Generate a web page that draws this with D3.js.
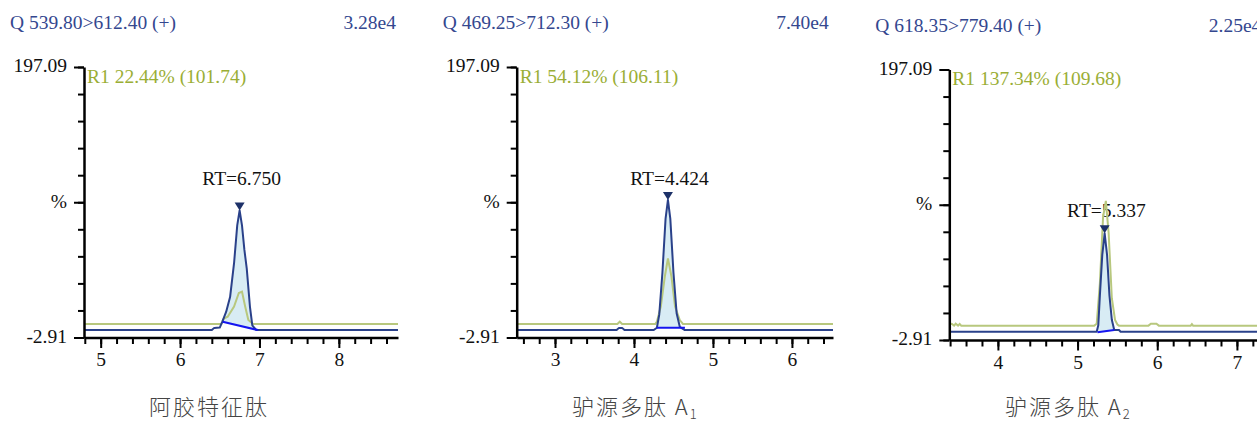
<!DOCTYPE html>
<html>
<head>
<meta charset="utf-8">
<script src="https://cdn.jsdelivr.net/npm/d3@7"></script>
<style>
  body { margin: 0; background: #fff; }
  svg { display: block; }
  .serif { font-family: "Liberation Serif", "Times New Roman", serif; font-size: 19.5px; }
  .cjk { font-family: "Noto Sans CJK SC", "Noto Sans", sans-serif; font-size: 22px; font-weight: 300; }
</style>
</head>
<body>
<svg id="chart"></svg>
<script>
// values
const titles = ['Q 539.80>612.40 (+)', 'Q 469.25>712.30 (+)', 'Q 618.35>779.40 (+)']
const intensities = ['3.28e4', '7.40e4', '2.25e4']
const ratios = ['R1 22.44% (101.74)', 'R1 54.12% (106.11)', 'R1 137.34% (109.68)']
const retentionTimes = [6.750, 4.424, 5.337]
const compoundNames = ['阿胶特征肽', '驴源多肽 A', '驴源多肽 A']
const compoundSubs = ['', '1', '2']
const timeRanges = [[4.79, 8.745], [2.515, 6.52], [3.39, 7.36]]
const yRange = [-2.91, 197.09]
const yTickLabels = ['-2.91', '%', '197.09']

// quantifier traces (dark blue)
const quant1 = [[4.79, 2.6], [6.40, 2.6], [6.43, 4.2], [6.50, 4.4], [6.53, 8.5], [6.58, 16], [6.63, 27],
  [6.68, 52], [6.72, 80], [6.75, 91], [6.78, 80], [6.81, 62], [6.84, 48], [6.88, 20], [6.91, 6], [6.96, 2.6], [8.745, 2.6]]
const quant2 = [[2.515, 2.6], [3.78, 2.6], [3.81, 4.2], [3.85, 4.2], [3.88, 2.6], [4.25, 2.6], [4.29, 4.3], [4.32, 14],
  [4.36, 45], [4.40, 85], [4.43, 98.8], [4.46, 85], [4.50, 45], [4.54, 15], [4.58, 5], [4.64, 2.6], [6.52, 2.6]]
const quant3 = [[3.39, 3.2], [5.24, 3.2], [5.26, 8], [5.28, 30], [5.31, 60], [5.34, 76], [5.37, 60], [5.40, 30],
  [5.43, 12], [5.46, 4.5], [5.52, 4.5], [5.54, 3.2], [7.36, 3.2]]

// qualifier traces (green)
const qual1 = [[4.79, 7.1], [6.52, 7.1], [6.55, 11], [6.60, 12.5], [6.68, 20], [6.74, 30], [6.78, 31], [6.82, 20],
  [6.86, 10], [6.92, 7.1], [8.745, 7.1]]
const qual2 = [[2.515, 7.1], [3.79, 7.1], [3.82, 8.8], [3.85, 7.1], [4.27, 7.1], [4.29, 8.8], [4.34, 20], [4.39, 42],
  [4.43, 55.5], [4.475, 42], [4.52, 20], [4.58, 10], [4.62, 7.1], [6.52, 7.1]]
const qual3 = [[3.39, 8.6], [3.42, 9.1], [3.45, 7.7], [3.47, 9.1], [3.50, 7.7], [3.52, 8.9], [3.54, 7.7], [5.21, 7.7],
  [5.24, 9.1], [5.28, 39], [5.32, 88], [5.355, 100], [5.39, 76], [5.43, 28], [5.47, 12], [5.50, 8.5], [5.52, 7.7],
  [5.89, 7.7], [5.92, 9.1], [5.99, 9.1], [6.02, 7.7], [6.42, 7.7], [6.435, 8.8], [6.45, 7.7], [7.36, 7.7]]

// integration baselines (start, end)
const integ1 = [[6.536, 8.8], [6.98, 2.6]]
const integ2 = [[4.29, 4.3], [4.645, 4.3]]
const integ3 = [[5.25, 2.8], [5.46, 4.5]]

const quants = [quant1, quant2, quant3]
const quals = [qual1, qual2, qual3]
const integs = [integ1, integ2, integ3]

// layout
const width = 1257
const height = 424
const axisLeft = [84, 516.7, 949.3]
const plotWidth = [314, 316.3, 316.3]
const shiftY = [0, 0, 2.5]
const plotTop = 67
const plotBottom = 337.5
const rtLabelY = [185, 185, 214.2]
const nameX = [149, 572, 1005]

const svg = d3.select('#chart')
	.attr('width', width)
	.attr('height', height)

quants.forEach((quant, i) => {
	let L = axisLeft[i]
	let [t0, t1] = timeRanges[i]
	let x = d3.scaleLinear().domain(timeRanges[i]).range([L, L + plotWidth[i]])
	let y = d3.scaleLinear().domain(yRange).range([plotBottom, plotTop])
	let line = d3.line().x(d => x(d[0])).y(d => y(d[1]))

	let g = svg.append('g').attr('transform', 'translate(0,' + shiftY[i] + ')')

	// header
	g.append('text').attr('class', 'serif')
		.attr('x', L - 74).attr('y', 29)
		.attr('fill', '#34478f')
		.text(titles[i])
	g.append('text').attr('class', 'serif')
		.attr('x', L + 312).attr('y', 29)
		.attr('text-anchor', 'end')
		.attr('fill', '#34478f')
		.text(intensities[i])
	g.append('text').attr('class', 'serif')
		.attr('x', L + 3).attr('y', 82.5)
		.attr('fill', '#9aae35')
		.text(ratios[i])

	// integrated area
	let [a, b] = integs[i]
	let area = [a].concat(quant.filter(d => d[0] > a[0] && d[0] < b[0]), [b])
	g.append('path')
		.attr('d', line(area) + 'Z')
		.attr('fill', '#d8ecf4')

	// RT label
	g.append('text').attr('class', 'serif')
		.attr('x', x(retentionTimes[i]) + 2).attr('y', rtLabelY[i])
		.attr('text-anchor', 'middle')
		.attr('fill', '#111')
		.text('RT=' + retentionTimes[i].toFixed(3))

	g.append('path')
		.attr('d', line(quals[i]))
		.attr('fill', 'none')
		.attr('stroke', '#b8c87e')
		.attr('stroke-width', 2)

	g.append('path')
		.attr('d', line(quant))
		.attr('fill', 'none')
		.attr('stroke', '#2a418a')
		.attr('stroke-width', 2)
		.attr('stroke-linejoin', 'round')

	g.append('path')
		.attr('d', line(integs[i]))
		.attr('stroke', '#1515f0')
		.attr('stroke-width', 2)

	// apex marker
	let apex = quant.reduce((m, d) => d[1] > m[1] ? d : m)
	g.append('path')
		.attr('transform', 'translate(' + x(apex[0]) + ',' + y(apex[1]) + ')')
		.attr('d', 'M-5,-8L5,-8L0,0Z')
		.attr('fill', '#1d3168')

	// axes
	let minor = d3.range(Math.ceil(t0 * 5 - 1e-9), Math.floor(t1 * 5 + 1e-9) + 1).map(k => k / 5)
	let major = d3.range(Math.ceil(t0), Math.floor(t1) + 1)

	let xMinor = g.append('g')
		.attr('transform', 'translate(0,' + plotBottom + ')')
		.call(d3.axisBottom(x).tickValues(minor).tickSize(6.5).tickSizeOuter(0).tickFormat(''))
	let xMajor = g.append('g')
		.attr('transform', 'translate(0,' + plotBottom + ')')
		.call(d3.axisBottom(x).tickValues(major).tickSize(10.5).tickSizeOuter(0).tickPadding(4.2).tickFormat(d3.format('d')))
	xMajor.select('.domain').remove()

	let yVals = d3.range(11).map(k => yRange[0] + 20 * k)
	let yMinor = g.append('g')
		.attr('transform', 'translate(' + L + ',0)')
		.call(d3.axisLeft(y).tickValues(yVals).tickSize(6).tickSizeOuter(0).tickFormat(''))
	let yMajor = g.append('g')
		.attr('transform', 'translate(' + L + ',0)')
		.call(d3.axisLeft(y).tickValues([yVals[0], yVals[5], yVals[10]]).tickSize(10).tickSizeOuter(0).tickPadding(7)
			.tickFormat((d, k) => yTickLabels[k]))
	yMajor.select('.domain').remove()

	;[xMinor, xMajor, yMinor, yMajor].forEach(ax => {
		ax.selectAll('.tick line').attr('stroke', '#000').attr('stroke-width', 2)
		ax.select('.domain').attr('stroke', '#000').attr('stroke-width', 2.5)
		ax.selectAll('text')
			.attr('font-family', '"Liberation Serif", "Times New Roman", serif')
			.attr('font-size', 19.5)
			.attr('fill', '#111')
	})
	yMajor.selectAll('text').attr('dy', '0.25em')

	// compound name
	let name = svg.append('text').attr('class', 'cjk')
		.attr('x', nameX[i]).attr('y', 415)
		.attr('fill', '#444')
		.attr('letter-spacing', 2)
		.text(compoundNames[i])
	if (compoundSubs[i]) {
		name.append('tspan')
			.attr('font-size', 13)
			.attr('dy', 4)
			.attr('letter-spacing', 0)
			.text(compoundSubs[i])
	}
})
</script>
</body>
</html>
